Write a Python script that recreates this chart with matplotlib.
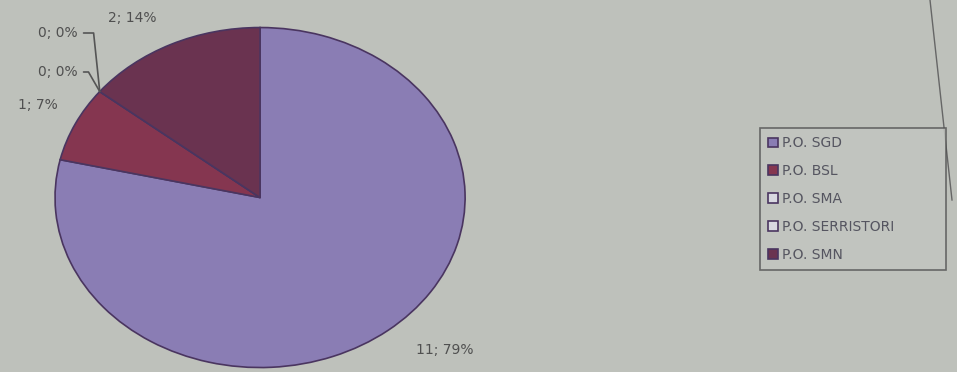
import numpy as np
import matplotlib.pyplot as plt
from matplotlib.lines import Line2D

categories = ['P.O. SGD', 'P.O. BSL', 'P.O. SMA', 'P.O. SERRISTORI', 'P.O. SMN']
values = [11, 1, 0, 0, 2]
percents = [79, 7, 0, 0, 14]
colors = ['#8a7db4', '#853650', '#d8d8e0', '#d8d8e0', '#6a3350']

bg = '#bec1bb'
fig = plt.figure(figsize=(9.57, 3.72), dpi=100, facecolor=bg)
ax = fig.add_axes([0.0575, 0.012, 0.4285, 0.914])
ax.set_facecolor(bg)

wedges, _ = ax.pie(values, colors=colors, startangle=90, counterclock=False,
                   wedgeprops=dict(edgecolor='#4a3560', linewidth=1.2))
ax.set_aspect('auto')
ax.set_xlim(-1.0, 1.0)
ax.set_ylim(-1.0, 1.0)

labels = ['%d; %d%%' % (v, p) for v, p in zip(values, percents)]
tc = '#505050'
fs = 10
# label text placements (figure pixels from top-left)
text_px = [(445, 350), (38, 105), (78, 72), (78, 33), (132, 18)]
bends = [None, None, 120, 96, None]
for i, (w, lab) in enumerate(zip(wedges, labels)):
    tx, ty = text_px[i]
    pos = (tx / 957, 1 - ty / 372)
    if values[i] == 0:
        ang = np.deg2rad(w.theta1)
        ax.annotate(lab, xy=(np.cos(ang), np.sin(ang)), xycoords='data',
                    xytext=pos, textcoords='figure fraction',
                    ha='right', va='center', fontsize=fs, color=tc,
                    arrowprops=dict(arrowstyle='-', color='#555555', lw=1.2,
                                    relpos=(1, 0.5), shrinkA=2, shrinkB=0,
                                    connectionstyle='angle,angleA=0,angleB=%d,rad=0' % bends[i]))
    else:
        fig.text(pos[0], pos[1], lab, ha='center', va='center', fontsize=fs, color=tc)

leg = fig.legend(wedges, categories, loc='upper left', mode='expand',
                 bbox_to_anchor=(760 / 957, 1 - 272 / 372, 186 / 957, 144 / 372),
                 borderaxespad=0, frameon=True, fancybox=False, fontsize=10,
                 labelcolor='#555560', handlelength=0.7, handleheight=0.7,
                 handletextpad=0.3, labelspacing=1.0, borderpad=0.6,
                 facecolor='#c3c6c1', edgecolor='#505050')
leg.get_frame().set_linewidth(1.2)

fig.add_artist(Line2D([930 / 957, 952 / 957], [1.0, 1 - 200 / 372],
                      color='#666666', lw=1, transform=fig.transFigure))

plt.savefig('out.png', dpi=100, facecolor=bg)
